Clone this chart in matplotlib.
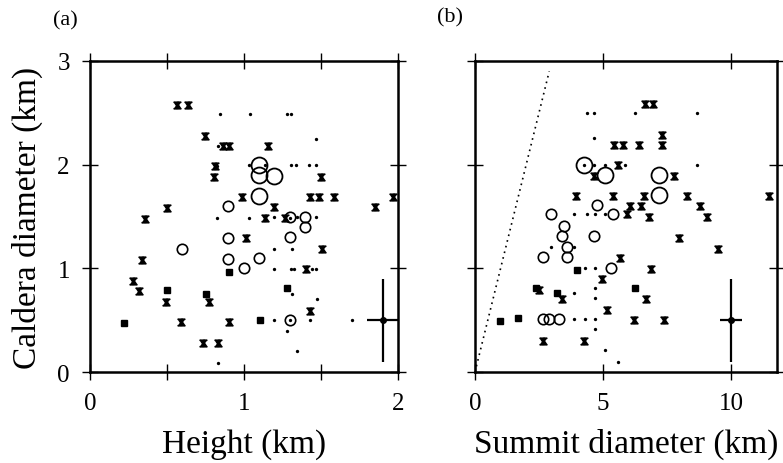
import numpy as np
import matplotlib
matplotlib.use("Agg")
import matplotlib.pyplot as plt

plt.rcParams['font.family'] = ['Liberation Serif', 'DejaVu Serif']
plt.rcParams['mathtext.fontset'] = 'stix'

# ---- panel (a): height vs caldera diameter (km) ----
a_cross_x = [0.567, 0.634, 0.745, 0.864, 0.905, 1.158, 0.812, 0.805, 0.987, 0.498,
             0.357, 1.013, 0.340, 0.281, 0.320, 0.494, 0.771, 0.589, 0.900, 0.732,
             0.831, 1.498, 1.429, 1.485, 1.586, 1.970, 1.849, 1.195, 1.136, 1.266,
             1.509, 1.403, 1.429]
a_cross_y = [2.58, 2.58, 2.28, 2.18, 2.18, 2.18, 1.99, 1.88, 1.69, 1.58,
             1.48, 1.29, 1.08, 0.88, 0.78, 0.68, 0.68, 0.48, 0.48, 0.28,
             0.28, 1.885, 1.69, 1.69, 1.69, 1.69, 1.59, 1.59, 1.49, 1.49,
             1.19, 0.99, 0.59]

a_dot_x = [0.833, 0.844, 1.040, 1.281, 1.305, 1.468, 1.034, 0.822, 1.136, 1.305,
           1.337, 1.422, 1.468, 0.827, 1.030, 1.197, 1.342, 1.468, 1.299, 1.197,
           1.310, 1.197, 1.305, 1.325, 1.440, 1.470, 1.310, 1.472, 1.197, 1.299,
           1.429, 1.703, 1.281, 1.342, 0.831]
a_dot_y = [2.18, 2.49, 2.49, 2.49, 2.49, 2.25, 2.00, 1.99, 2.00, 2.00,
           2.00, 2.00, 2.00, 1.49, 1.49, 1.50, 1.50, 1.50, 1.49, 1.19,
           1.19, 0.99, 0.99, 0.99, 0.99, 0.99, 0.75, 0.70, 0.50, 0.50,
           0.50, 0.50, 0.40, 0.20, 0.09]

a_circ_x = [0.894, 0.898, 0.600, 0.898, 0.998, 1.299, 1.398, 1.398, 1.299, 1.100, 1.299]
a_circ_y = [1.60, 1.29, 1.19, 1.09, 1.00, 1.50, 1.50, 1.40, 1.30, 1.10, 0.50]

a_big_x = [1.100, 1.095, 1.197, 1.100]
a_big_y = [2.00, 1.90, 1.89, 1.70]

a_sq_x = [0.900, 0.502, 0.751, 0.223, 1.277, 1.104]
a_sq_y = [0.96, 0.79, 0.75, 0.47, 0.81, 0.50]

a_err = (1.90, 0.50, 0.10, 0.40)  # x, y, xerr, yerr

# ---- panel (b): summit diameter vs caldera diameter (km) ----
b_cross_x = [5.43, 5.80, 6.42, 7.29, 7.29, 6.64, 6.96, 5.57, 4.66, 7.77,
             3.95, 5.40, 6.60, 8.29, 11.48, 6.05, 6.47, 8.80, 5.92, 6.80,
             9.05, 7.98, 9.49, 5.66, 6.89, 4.95, 2.51, 3.39, 6.67, 5.14,
             6.22, 7.37, 2.64, 4.27]
b_cross_y = [2.19, 2.19, 2.19, 2.19, 2.29, 2.59, 2.59, 2.00, 1.89, 1.89,
             1.70, 1.70, 1.70, 1.70, 1.70, 1.60, 1.60, 1.60, 1.52, 1.50,
             1.50, 1.29, 1.19, 1.10, 0.99, 0.90, 0.79, 0.70, 0.70, 0.60,
             0.50, 0.50, 0.30, 0.30]

b_dot_x = [4.36, 4.66, 6.25, 8.68, 4.66, 4.26, 4.66, 5.07, 5.86, 8.68,
           3.88, 4.36, 4.69, 5.08, 2.96, 3.88, 4.30, 4.69, 3.88, 4.69,
           4.69, 3.88, 4.30, 4.69, 4.69, 5.08, 5.60]
b_dot_y = [2.50, 2.50, 2.50, 2.50, 2.26, 2.00, 2.00, 2.00, 2.00, 2.00,
           1.52, 1.52, 1.52, 1.52, 1.21, 1.21, 1.00, 1.00, 0.76, 0.81,
           0.71, 0.51, 0.51, 0.51, 0.41, 0.21, 0.10]

b_circ_x = [4.75, 2.96, 5.38, 3.49, 3.39, 4.66, 3.58, 2.67, 3.58, 5.30, 2.64, 2.90, 3.29]
b_circ_y = [1.61, 1.52, 1.52, 1.41, 1.31, 1.31, 1.21, 1.11, 1.11, 1.00, 0.51, 0.51, 0.51]

b_big_x = [4.26, 5.07, 7.19, 7.19]
b_big_y = [2.00, 1.90, 1.90, 1.71]

b_sq_x = [3.97, 2.38, 3.19, 6.26, 0.98, 1.67]
b_sq_y = [0.98, 0.81, 0.76, 0.81, 0.49, 0.52]

b_err = (10.0, 0.50, 0.42, 0.40)

# caldera diameter = summit diameter
ref_x = [0.0, 2.9]
ref_y = [0.0, 2.9]


def draw_points(ax, cx, cy, dx, dy, ox, oy, bx, by, sx, sy, err):
    ax.plot(cx, cy, ls='none', marker=r'$\mathbf{x}$', ms=5, color='black')
    ax.plot(dx, dy, ls='none', marker='o', ms=2.4, color='black', mew=0)
    ax.plot(ox, oy, ls='none', marker='o', ms=7.5, mfc='none', mec='black', mew=1.2)
    ax.plot(bx, by, ls='none', marker='o', ms=11.5, mfc='none', mec='black', mew=1.3)
    ax.plot(sx, sy, ls='none', marker='s', ms=5, color='black')
    ax.errorbar(err[0], err[1], xerr=err[2], yerr=err[3], fmt='o', ms=4,
                color='black', elinewidth=1.6, capsize=0)


def style_axes(ax):
    for s in ax.spines.values():
        s.set_linewidth(1.8)
    ax.tick_params(direction='inout', length=11, width=1.0, labelsize=18,
                   top=True, right=True, pad=9)
    ax.set_ylim(0, 3)
    ax.set_yticks([0, 1, 2, 3])


fig = plt.figure(figsize=(7.83, 4.64), dpi=100)
ax1 = fig.add_axes([90 / 783, 1 - 373 / 464, 308 / 783, 311 / 464])
ax2 = fig.add_axes([475 / 783, 1 - 373 / 464, 302 / 783, 311 / 464])

draw_points(ax1, a_cross_x, a_cross_y, a_dot_x, a_dot_y, a_circ_x, a_circ_y,
            a_big_x, a_big_y, a_sq_x, a_sq_y, a_err)
style_axes(ax1)
ax1.set_xlim(0, 2)
ax1.set_xticks([0, 0.5, 1, 1.5, 2])
ax1.set_xticklabels(['0', '', '1', '', '2'])
ax1.set_xlabel('Height (km)', fontsize=24, labelpad=10)
ax1.set_ylabel('Caldera diameter (km)', fontsize=24, labelpad=10)

draw_points(ax2, b_cross_x, b_cross_y, b_dot_x, b_dot_y, b_circ_x, b_circ_y,
            b_big_x, b_big_y, b_sq_x, b_sq_y, b_err)
ax2.plot(ref_x, ref_y, ls=(0, (1, 2.5)), color='black', lw=1.2)
style_axes(ax2)
ax2.set_xlim(0, 11.8)
ax2.set_xticks([0, 5, 10])
ax2.set_yticklabels([])
ax2.set_xlabel('Summit diameter (km)', fontsize=24, labelpad=10)

fig.text(65 / 783, 1 - 21 / 464, '(a)', fontsize=16, ha='center', va='center')
fig.text(450 / 783, 1 - 18 / 464, '(b)', fontsize=16, ha='center', va='center')

fig.savefig('out.png', dpi=100)
